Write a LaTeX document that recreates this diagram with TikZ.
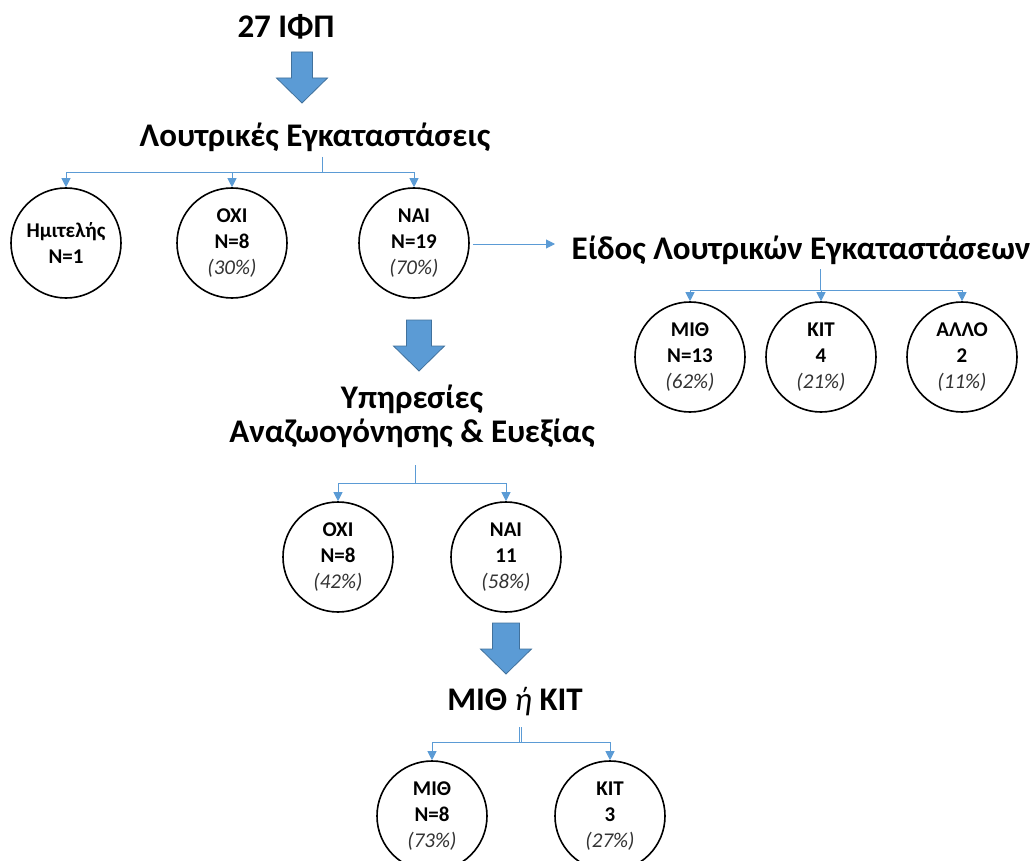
\documentclass[tikz,border=0pt]{standalone}
\usepackage{fontspec}
\setmainfont{Carlito}
\usetikzlibrary{arrows.meta}
\definecolor{conblue}{HTML}{5B9BD5}
\definecolor{arrowblue}{HTML}{5B9BD5}
\definecolor{arrowedge}{HTML}{41719C}
\definecolor{pctgray}{HTML}{333333}
\begin{document}
\begin{tikzpicture}[x=1pt,y=-1pt,
  title/.style={font=\fontsize{33}{34}\selectfont\bfseries, inner sep=0pt},
  circ/.style={circle, draw=black, line width=1.6pt, minimum size=110pt, inner sep=0pt, align=center, font=\fontsize{21}{26}\selectfont\bfseries},
  conn/.style={draw=conblue, line width=1pt},
  tipped/.style={-{Triangle[width=9pt,length=9pt]}},
  barrow/.pic={
    \filldraw[fill=arrowblue, draw=arrowedge, line width=0.8pt]
      (-#1,0) -- (#1,0) -- (#1,26) -- (25.5,26) -- (0,51) -- (-25.5,26) -- (-#1,26) -- cycle;
  }
]
\useasboundingbox (0,0) rectangle (1036,861);
\clip (0,0) rectangle (1036,861);
\newcommand{\pc}[1]{{\normalfont\itshape\color{pctgray}#1}}

% top
\node[title, anchor=base] (t1) at (286,38) {27 ΙΦΠ};
\pic at (302,52) {barrow=10.5};
\node[title, anchor=base] (t2) at (315,147) {Λουτρικές Εγκαταστάσεις};

\node[circ] (c1) at (66,243) {Ημιτελής\\N=1};
\node[circ] (c2) at (232,243) {ΟΧΙ\\N=8\\\pc{(30\%)}};
\node[circ] (c3) at (414,243) {ΝΑΙ\\N=19\\\pc{(70\%)}};

\coordinate (j1t) at (322,157);
\coordinate (j1) at (322,173);
\draw[conn] (j1t) -- (j1);
\draw[conn,tipped] (j1) -| (c1.north);
\draw[conn,tipped] (j1) -| (c2.north);
\draw[conn,tipped] (j1) -| (c3.north);

% right branch
\node[title, anchor=base] (t3) at (801,259) {Είδος Λουτρικών Εγκαταστάσεων};
\coordinate (n3s) at (473,244);
\coordinate (t3w) at (555,244);
\draw[conn,tipped] (n3s) -- (t3w);

\node[circ] (d1) at (690,357) {ΜΙΘ\\N=13\\\pc{(62\%)}};
\node[circ] (d2) at (821,357) {ΚΙΤ\\4\\\pc{(21\%)}};
\node[circ] (d3) at (962,357) {ΑΛΛΟ\\2\\\pc{(11\%)}};
\coordinate (j2t) at (820,269);
\coordinate (j2) at (820,290);
\draw[conn] (j2t) -- (j2);
\draw[conn,tipped] (j2) -| (d1.north);
\draw[conn,tipped] (j2) -| (d2.north);
\draw[conn,tipped] (j2) -| (d3.north);

% middle
\pic at (419,320) {barrow=12.5};
\node[title, anchor=base] (t4a) at (412,408) {Υπηρεσίες};
\node[title, anchor=base] (t4b) at (412,442) {Αναζωογόνησης \& Ευεξίας};

\node[circ] (e1) at (338,557) {ΟΧΙ\\N=8\\\pc{(42\%)}};
\node[circ] (e2) at (506,557) {ΝΑΙ\\11\\\pc{(58\%)}};
\coordinate (j3t) at (415,465);
\coordinate (j3) at (415,483);
\draw[conn] (j3t) -- (j3);
\draw[conn,tipped] (j3) -| (e1.north);
\draw[conn,tipped] (j3) -| (e2.north);

% bottom
\pic at (506,623) {barrow=13.5};
\node[title, anchor=base] (t5) at (515,710) {ΜΙΘ {\normalfont\itshape ή} ΚΙΤ};

\node[circ] (f1) at (432,816) {ΜΙΘ\\N=8\\\pc{(73\%)}};
\node[circ] (f2) at (610,816) {ΚΙΤ\\3\\\pc{(27\%)}};
\coordinate (j4t) at (520,727);
\coordinate (j4) at (520,742);
\draw[conn] ([xshift=-1pt]j4t) -- ([xshift=-1pt]j4);
\draw[conn] ([xshift=1pt]j4t) -- ([xshift=1pt]j4);
\draw[conn,tipped] (j4) -| (f1.north);
\draw[conn,tipped] (j4) -| (f2.north);
\end{tikzpicture}
\end{document}
